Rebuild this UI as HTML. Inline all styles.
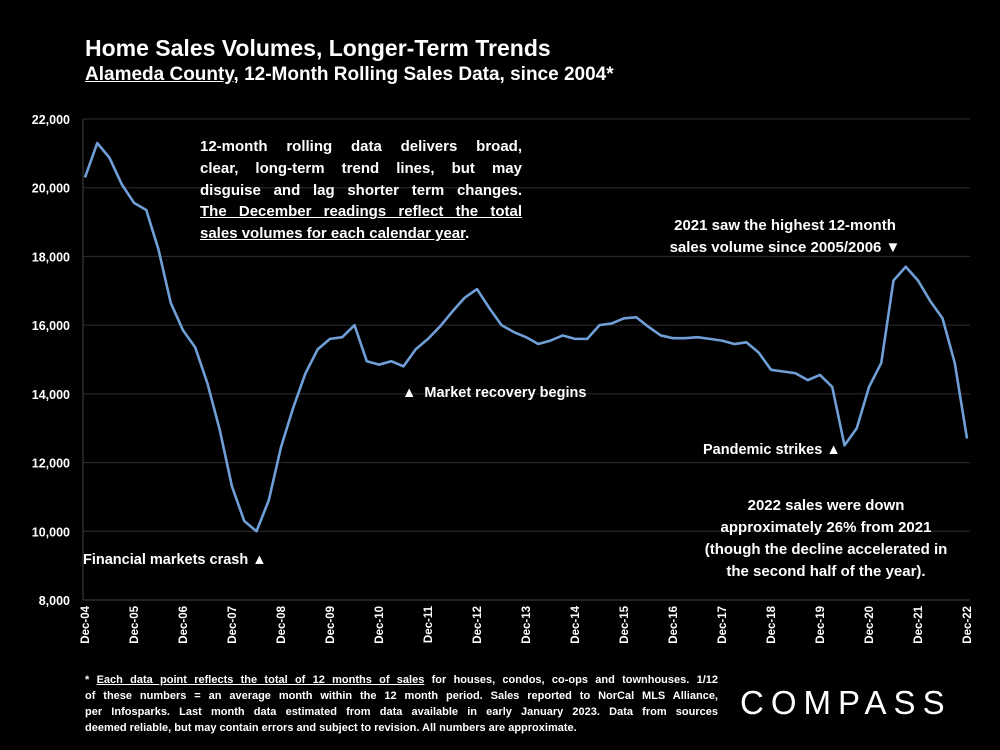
<!DOCTYPE html>
<html><head><meta charset="utf-8"><style>
body{margin:0;background:#000;width:1000px;height:750px;overflow:hidden;font-family:"Liberation Sans",sans-serif;color:#fff}
.t{position:absolute;font-weight:bold;white-space:nowrap}
.j{text-align:justify;text-align-last:justify;white-space:nowrap}
</style></head><body>
<div class="t" style="left:85px;top:35px;font-size:23px">Home Sales Volumes, Longer-Term Trends</div>
<div class="t" style="left:85px;top:64px;font-size:19px"><u>Alameda County</u>, 12-Month Rolling Sales Data, since 2004*</div>
<svg id="c" width="1000" height="750" style="position:absolute;left:0;top:0"></svg>
<div class="t" style="left:200px;top:136px;width:322px;font-size:15px;line-height:21.8px">
<div class="j">12-month rolling data delivers broad,</div>
<div class="j">clear, long-term trend lines, but may</div>
<div class="j">disguise and lag shorter term changes.</div>
<div class="j"><u>The December readings reflect the total</u></div>
<div style="text-align:left"><u>sales volumes for each calendar year</u>.</div></div>
<div class="t" style="left:640px;top:215px;width:290px;text-align:center;font-size:15px;line-height:22px">2021 saw the highest 12-month<br>sales volume since 2005/2006 ▼</div>
<div class="t" style="left:402px;top:385px;font-size:14.5px">▲&nbsp; Market recovery begins</div>
<div class="t" style="left:703px;top:442px;font-size:14.5px">Pandemic strikes ▲</div>
<div class="t" style="left:680px;top:495px;width:292px;text-align:center;font-size:15px;line-height:22px">2022 sales were down<br>approximately 26% from 2021<br>(though the decline accelerated in<br>the second half of the year).</div>
<div class="t" style="left:83px;top:552px;font-size:14.5px">Financial markets crash ▲</div>
<div class="t" style="left:85px;top:672px;width:633px;font-size:11px;line-height:16px">
<div class="j">* <u>Each data point reflects the total of 12 months of sales</u> for houses, condos, co-ops and townhouses. 1/12</div>
<div class="j">of these numbers = an average month within the 12 month period. Sales reported to NorCal MLS Alliance,</div>
<div class="j">per Infosparks. Last month data estimated from data available in early January 2023. Data from sources</div>
<div style="text-align:left">deemed reliable, but may contain errors and subject to revision. All numbers are approximate.</div></div>
<div class="t" style="left:740px;top:684px;font-size:33px;font-weight:normal;letter-spacing:7px">COMPASS</div>
<script>
const yTicks=[8000,10000,12000,14000,16000,18000,20000,22000];
const xLabels=["Dec-04","Dec-05","Dec-06","Dec-07","Dec-08","Dec-09","Dec-10","Dec-11","Dec-12","Dec-13","Dec-14","Dec-15","Dec-16","Dec-17","Dec-18","Dec-19","Dec-20","Dec-21","Dec-22"];
// quarterly values starting Dec-04 (Dec, Mar, Jun, Sep ...)
const sales=[20300,21300,20870,20100,19560,19350,18200,16650,15850,15350,14300,12950,11300,10300,10000,10900,12450,13600,14600,15300,15600,15650,16000,14950,14850,14950,14800,15300,15600,15970,16400,16800,17050,16500,16000,15800,15650,15450,15550,15700,15600,15600,16000,16050,16200,16230,15950,15700,15620,15620,15650,15600,15550,15450,15500,15200,14700,14650,14600,14400,14550,14200,12500,13000,14200,14900,17300,17700,17300,16700,16200,14900,12700];
const svg=document.getElementById('c');const NS='http://www.w3.org/2000/svg';
const x0=85,x1=967,yTop=119,yBot=600,vMin=8000,vMax=22000;
const xM=m=>x0+(x1-x0)*m/216;
const yV=v=>yBot-(v-vMin)/(vMax-vMin)*(yBot-yTop);
function mk(t,a){const e=document.createElementNS(NS,t);for(const k in a)e.setAttribute(k,a[k]);svg.appendChild(e);return e;}
yTicks.forEach(v=>{
 if(v>vMin){const g=mk('line',{x1:83,x2:970,y1:yV(v),y2:yV(v),stroke:'#2e2e2e','stroke-width':1});
 
 }
 const t=mk('text',{x:70,y:yV(v)+5,'text-anchor':'end',fill:'#fff','font-size':12.5,'font-weight':'bold','font-family':'Liberation Sans'});
 t.textContent=v.toLocaleString('en-US');
 
 
});
const ax=mk('line',{x1:83,x2:83,y1:yTop,y2:yBot,stroke:'#444','stroke-width':1});


const bx=mk('line',{x1:83,x2:970,y1:yBot,y2:yBot,stroke:'#444','stroke-width':1});


xLabels.forEach((l,i)=>{const x=xM(i*12);
 const t=mk('text',{x:0,y:0,transform:`translate(${x+4},606) rotate(-90)`,'text-anchor':'end',fill:'#fff','font-size':11.5,'font-weight':'bold','font-family':'Liberation Sans'});
 t.textContent=l;
 
 
});
const p=mk('polyline',{points:sales.map((v,i)=>xM(i*3)+','+yV(v)).join(' '),fill:'none',stroke:'#6f9fd6','stroke-width':2.6,'stroke-linejoin':'round'});


</script>
</body></html>
